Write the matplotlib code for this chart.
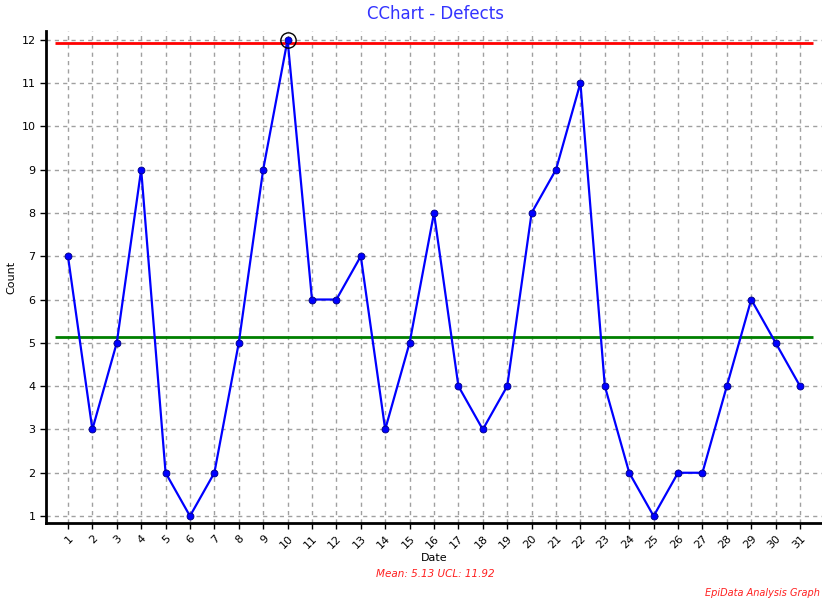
import matplotlib
matplotlib.use("Agg")
import matplotlib.pyplot as plt
import numpy as np

dates = list(range(1, 32))
counts = [7, 3, 5, 9, 2, 1, 2, 5, 9, 12, 6, 6, 7, 3, 5, 8, 4, 3, 4, 8, 9, 11, 4, 2, 1, 2, 2, 4, 6, 5, 4]
mean = 5.13
ucl = 11.92
outliers = [10]

fig = plt.figure(figsize=(8.22, 6.01), dpi=100)
ax = fig.add_axes([46/822, 78/601, 1 - 46/822, (523-31)/601])

ax.set_xlim(0.1, 31.9)
ax.set_ylim(0.84, 12.2)
ax.set_xticks(dates)
ax.set_yticks(range(1, 13))
ax.grid(True, color="#a0a0a0", linestyle=(0, (3, 3)), linewidth=1)
ax.set_axisbelow(True)

ax.hlines(ucl, 0.45, 31.55, color="#ff0000", linewidth=2, zorder=2)
ax.hlines(mean, 0.45, 31.55, color="#008000", linewidth=2, zorder=2)

ax.plot(dates, counts, color="#0000ff", linewidth=1.6, marker="o", markersize=5,
        markerfacecolor="#0000ff", markeredgecolor="#000080", markeredgewidth=0.6, zorder=3)
for d in outliers:
    ax.plot(d, counts[d-1], marker="o", markersize=11, markerfacecolor="none",
            markeredgecolor="black", markeredgewidth=1, zorder=4)

for s in ["top", "right"]:
    ax.spines[s].set_visible(False)
for s in ["left", "bottom"]:
    ax.spines[s].set_linewidth(2)
ax.tick_params(axis="both", labelsize=8, length=4, width=1, colors="black")
plt.setp(ax.get_xticklabels(), rotation=45, ha="right", rotation_mode="anchor")

fig.text(435/822, 1 - 14/601, "CChart - Defects", color="#3333ff", fontsize=12,
         ha="center", va="center")
ax.set_xlabel("Date", fontsize=8, labelpad=2)
ax.set_ylabel("Count", fontsize=8, labelpad=4)
fig.text(435/822, 1 - 574/601, f"Mean: {mean:.2f} UCL: {ucl:.2f}", color="#ff2020",
         fontsize=7.5, style="italic", ha="center", va="center")
fig.text(820/822, 1 - 593/601, "EpiData Analysis Graph", color="#ff2020",
         fontsize=7, style="italic", ha="right", va="center")

fig.savefig("out.png", dpi=100)
